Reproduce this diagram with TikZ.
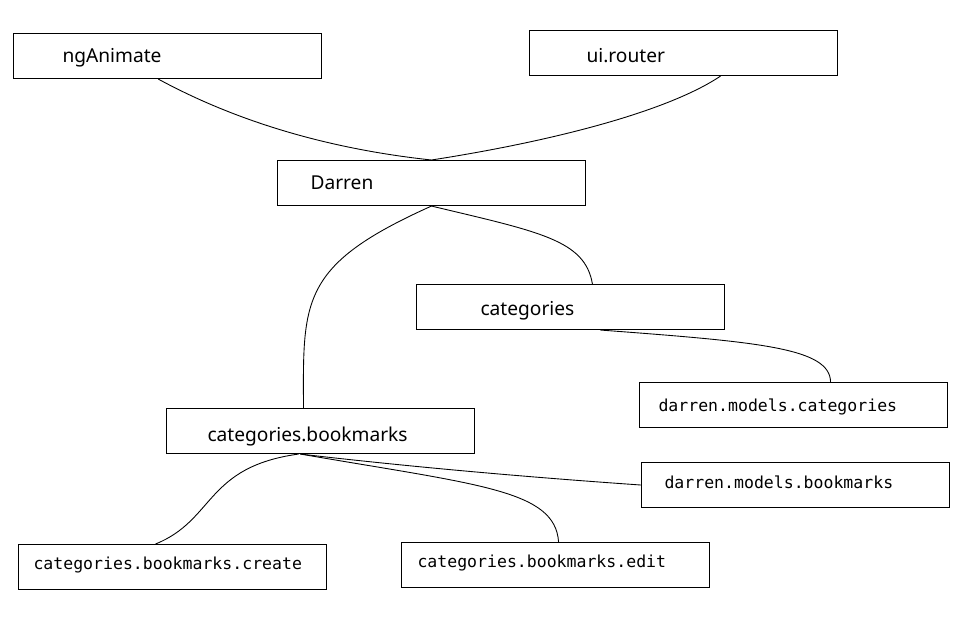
\documentclass[tikz,border=0pt]{standalone}
\usepackage{fontspec}
\setmainfont{Noto Sans}
\setmonofont{DejaVu Sans Mono}
\usetikzlibrary{positioning,calc}

\begin{document}
\begin{tikzpicture}[
		x=0.02cm,y=-0.02cm,
		line width=0.6pt,
		module/.style={draw,anchor=north west,minimum width=6.16cm,minimum height=0.9cm,inner sep=0pt},
		modname/.style={anchor=base west,inner sep=0pt,font=\fontsize{10.9}{13}\selectfont},
		codename/.style={anchor=base west,inner sep=0pt,font=\ttfamily\fontsize{9.4}{11}\selectfont},
		dep/.style={line width=0.5pt}]
		\useasboundingbox (0,0) rectangle (975,626);
		
		% Draw module boxes
		\node[module] (nga) at (13,33) {};
		\node[module] (uir) at (529,30) {};
		\node[module] (dar) at (277,160) {};
		\node[module] (cat) at (416,284) {};
		\node[module] (dmc) at (639,382) {};
		\node[module] (cbm) at (166,408) {};
		\node[module] (dmb) at (641,462) {};
		\node[module] (cbc) at (18,544) {};
		\node[module] (cbe) at (401,542) {};
		
		% module names (placed on their baselines)
		\node[modname] (ngat) at ($(nga.west)+(49,6)$) {ngAnimate};
		\node[modname] (uirt) at ($(uir.west)+(57,9)$) {ui.router};
		\node[modname] (dart) at ($(dar.west)+(33,6.5)$) {Darren};
		\node[modname] (catt) at ($(cat.west)+(64,8.5)$) {categories};
		\node[codename] (dmct) at ($(dmc.west)+(19,6)$) {darren.models.categories};
		\node[modname] (cbmt) at ($(cbm.west)+(41,10.5)$) {categories.bookmarks};
		\node[codename] (dmbt) at ($(dmb.west)+(23,3)$) {darren.models.bookmarks};
		\node[codename] (cbct) at ($(cbc.west)+(15,2)$) {categories.bookmarks.create};
		\node[codename] (cbet) at ($(cbe.west)+(16,2.5)$) {categories.bookmarks.edit};
		
		% Draw dependencies
		\draw[dep] ($(nga.south west)!0.47!(nga.south east)$)
		.. controls (230,118) and (320,148) .. (dar.north);
		\draw[dep] ($(uir.south west)!0.62!(uir.south east)$)
		.. controls (670,110) and (560,140) .. (dar.north);
		\draw[dep] (dar.south) .. controls (300,265) and (303,300)
		.. ($(cbm.north west)!0.445!(cbm.north east)$);
		\draw[dep] (dar.south) .. controls (540,232) and (585,240)
		.. ($(cat.north west)!0.571!(cat.north east)$);
		\draw[dep] ($(cat.south west)!0.597!(cat.south east)$)
		.. controls (760,342) and (830,348) .. ($(dmc.north west)!0.62!(dmc.north east)$);
		\draw[dep] ($(cbm.south west)!0.429!(cbm.south east)$)
		.. controls (205,467) and (215,520) .. ($(cbc.north west)!0.445!(cbc.north east)$);
		\draw[dep] ($(cbm.south west)!0.435!(cbm.south east)$)
		.. controls (480,485) and (555,490) .. ($(cbe.north west)!0.51!(cbe.north east)$);
		\draw[dep] ($(cbm.south west)!0.435!(cbm.south east)$)
		.. controls (420,468) and (540,478) .. (dmb.west);
		
\end{tikzpicture}
\end{document}
